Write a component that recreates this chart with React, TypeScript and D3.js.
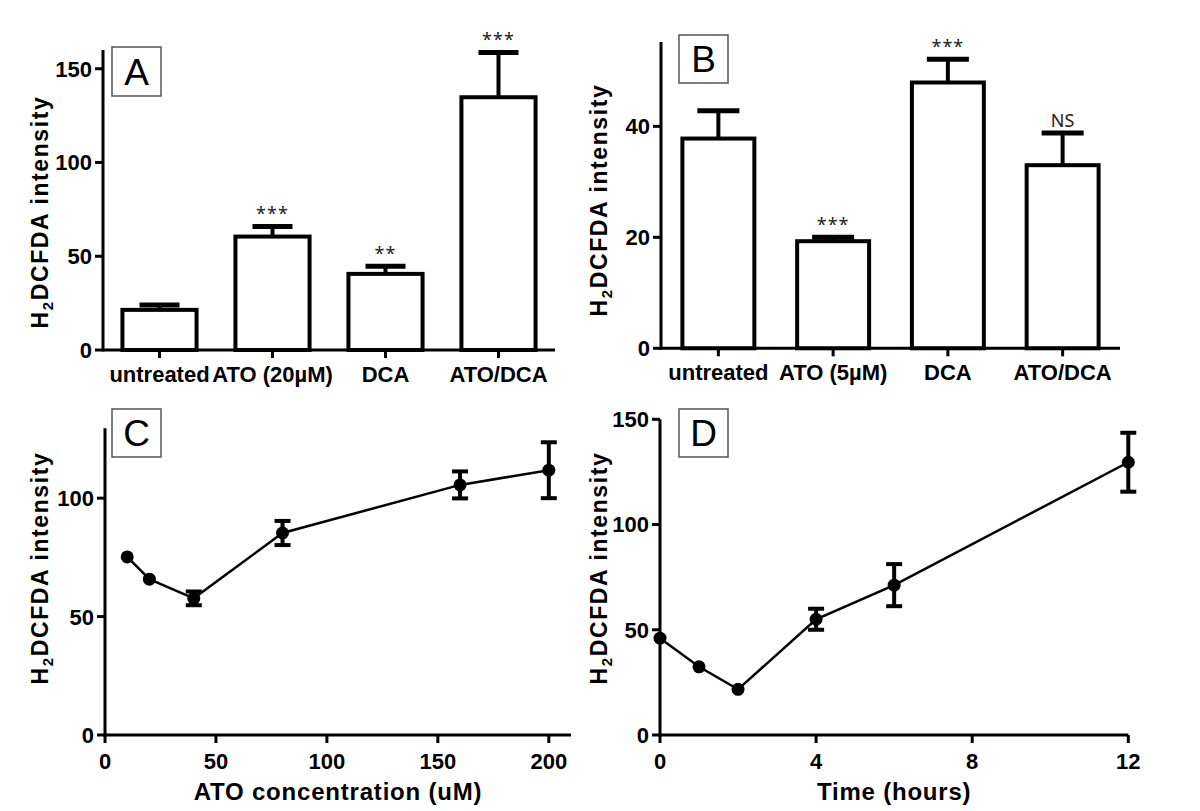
import React from "react";
import * as d3 from "d3";

// ---------- DATA ----------
const catsA = ["untreated", "ATO (20µM)", "DCA", "ATO/DCA"];
const meansA = [21.4, 60.5, 40.6, 134.8];
const errsA = [2.6, 5.4, 4.1, 23.9];
const sigA = ["", "***", "**", "***"];
const yTicksA = [0, 50, 100, 150];

const catsB = ["untreated", "ATO (5µM)", "DCA", "ATO/DCA"];
const meansB = [37.8, 19.3, 47.9, 33.0];
const errsB = [5.0, 0.7, 4.2, 5.8];
const sigB = ["", "***", "***", "NS"];
const yTicksB = [0, 20, 40];

const concC = [10, 20, 40, 80, 160, 200];
const meansC = [75.2, 65.8, 57.7, 85.3, 105.6, 111.8];
const errsC = [0, 0, 2.9, 5.1, 5.7, 11.8];
const xTicksC = [0, 50, 100, 150, 200];
const yTicksC = [0, 50, 100];

const timeD = [0, 1, 2, 4, 6, 12];
const meansD = [46.0, 32.4, 21.7, 55.0, 71.2, 129.6];
const errsD = [0, 0, 0, 5.0, 10.0, 14.0];
const xTicksD = [0, 4, 8, 12];
const yTicksD = [0, 50, 100, 150];

const yTitle = "intensity";
const xTitleC = "ATO concentration (uM)";
const xTitleD = "Time (hours)";

// ---------- STYLE ----------
const FONT = "'Liberation Sans', Arial, Helvetica, sans-serif";
const NOTE_FONT = "'Noto Sans', 'Open Sans', sans-serif";
const AXW = 3;
const TICK = 8;

function YAxis({ scale, x, ticks, top }: any) {
  const y0 = scale(0);
  return (
    <g>
      <line x1={x} x2={x} y1={top} y2={y0 + AXW / 2} stroke="#000" strokeWidth={AXW} />
      {ticks.map((t: number) => (
        <g key={t}>
          <line x1={x - TICK} x2={x} y1={scale(t)} y2={scale(t)} stroke="#000" strokeWidth={AXW} />
          <text x={x - 11} y={scale(t)} dy="0.36em" textAnchor="end" fontFamily={FONT}
            fontWeight="bold" fontSize={22}>{t}</text>
        </g>
      ))}
    </g>
  );
}

function YTitle({ x, cy }: any) {
  return (
    <text transform={`translate(${x},${cy}) rotate(-90)`} textAnchor="middle" fontFamily={FONT}
      fontWeight="bold" fontSize={23} letterSpacing={1.6}>
      H<tspan fontSize={15} dy={5}>2</tspan><tspan dy={-5}>DCFDA {yTitle}</tspan>
    </text>
  );
}

function PanelLetter({ x, y, w, h, letter }: any) {
  return (
    <g>
      <rect x={x} y={y} width={w} height={h} fill="#fff" stroke="#555" strokeWidth={1.5} />
      <text x={x + w / 2} y={y + h / 2 + 13} textAnchor="middle" fontFamily={FONT}
        fontSize={37}>{letter}</text>
    </g>
  );
}

function BarPanel({ cats, means, errs, sig, yTicks, xL, xR, yB, yT, yMax, pad, capW, label, box, titleX, titleY }: any) {
  const x = d3.scaleBand().domain(cats).range([xL, xR]).paddingInner(pad).paddingOuter(pad / 2);
  const y = d3.scaleLinear().domain([0, yMax]).range([yB, yT]);
  const bw = x.bandwidth();
  return (
    <g>
      {cats.map((c: string, i: number) => {
        const cx = (x(c) as number) + bw / 2;
        const top = y(means[i]);
        const capY = y(means[i] + errs[i]);
        return (
          <g key={c}>
            <line x1={cx} x2={cx} y1={top} y2={capY} stroke="#000" strokeWidth={4} />
            <line x1={cx - capW / 2} x2={cx + capW / 2} y1={capY} y2={capY} stroke="#000" strokeWidth={5} />
            <rect x={x(c)} y={top} width={bw} height={y(0) - top} fill="#fff" stroke="#000" strokeWidth={4} />
            {sig[i] && (
              <text x={cx} y={capY - 6} textAnchor="middle" fontFamily={NOTE_FONT} fontSize={18}
                fill="#222" letterSpacing={sig[i] === "NS" ? 0 : 1}>{sig[i]}</text>
            )}
          </g>
        );
      })}
      <line x1={xL} x2={xR} y1={yB} y2={yB} stroke="#000" strokeWidth={AXW} />
      {cats.map((c: string) => {
        const cx = (x(c) as number) + bw / 2;
        return (
          <g key={"t" + c}>
            <line x1={cx} x2={cx} y1={yB} y2={yB + TICK} stroke="#000" strokeWidth={AXW} />
            <text x={cx} y={yB + 32} textAnchor="middle" fontFamily={FONT} fontWeight="bold"
              fontSize={22}>{c}</text>
          </g>
        );
      })}
      <YAxis scale={y} x={xL} ticks={yTicks} top={yT} />
      <YTitle x={titleX} cy={titleY} />
      <PanelLetter {...box} letter={label} />
    </g>
  );
}

function LinePanel({ xs, means, errs, xTicks, yTicks, xL, xR, xMax, yB, yT, yMax, label, box, titleX, titleY, xTitle }: any) {
  const x = d3.scaleLinear().domain([0, xMax]).range([xL, xR]);
  const y = d3.scaleLinear().domain([0, yMax]).range([yB, yT]);
  const pts = xs.map((v: number, i: number) => [v, means[i]] as [number, number]);
  const path = d3.line<[number, number]>().x((d) => x(d[0])).y((d) => y(d[1]))(pts) as string;
  return (
    <g>
      <path d={path} fill="none" stroke="#000" strokeWidth={2.5} />
      {xs.map((v: number, i: number) => (
        <g key={v}>
          {errs[i] > 0 && (
            <g>
              <line x1={x(v)} x2={x(v)} y1={y(means[i] - errs[i])} y2={y(means[i] + errs[i])} stroke="#000" strokeWidth={4} />
              <line x1={x(v) - 8} x2={x(v) + 8} y1={y(means[i] - errs[i])} y2={y(means[i] - errs[i])} stroke="#000" strokeWidth={4} />
              <line x1={x(v) - 8} x2={x(v) + 8} y1={y(means[i] + errs[i])} y2={y(means[i] + errs[i])} stroke="#000" strokeWidth={4} />
            </g>
          )}
          <circle cx={x(v)} cy={y(means[i])} r={6.5} fill="#000" />
        </g>
      ))}
      <line x1={xL} x2={xR} y1={yB} y2={yB} stroke="#000" strokeWidth={AXW} />
      {xTicks.map((t: number) => (
        <g key={"x" + t}>
          <line x1={x(t)} x2={x(t)} y1={yB} y2={yB + TICK} stroke="#000" strokeWidth={AXW} />
          <text x={x(t)} y={yB + 34} textAnchor="middle" fontFamily={FONT} fontWeight="bold" fontSize={22}>{t}</text>
        </g>
      ))}
      <text x={(xL + xR) / 2} y={yB + 65} textAnchor="middle" fontFamily={FONT} fontWeight="bold"
        fontSize={24} letterSpacing={0.8}>{xTitle}</text>
      <YAxis scale={y} x={xL} ticks={yTicks} top={yT} />
      <YTitle x={titleX} cy={titleY} />
      <PanelLetter {...box} letter={label} />
    </g>
  );
}

export default function App() {
  return (
    <svg width={1200} height={811} style={{ position: "absolute", left: 0, top: 0, background: "#fff" }}>
      <rect width={1200} height={811} fill="#fff" />
      <BarPanel cats={catsA} means={meansA} errs={errsA} sig={sigA} yTicks={yTicksA}
        xL={103} xR={555} yB={350} yT={50} yMax={160} pad={0.344} capW={40} label="A"
        box={{ x: 112, y: 47, w: 49, h: 49 }} titleX={48} titleY={212} />
      <BarPanel cats={catsB} means={meansB} errs={errsB} sig={sigB} yTicks={yTicksB}
        xL={661} xR={1120} yB={348.3} yT={42} yMax={55.2} pad={0.373} capW={42} label="B"
        box={{ x: 679, y: 35, w: 49, h: 48 }} titleX={607} titleY={200} />
      <LinePanel xs={concC} means={meansC} errs={errsC} xTicks={xTicksC} yTicks={yTicksC}
        xL={105} xR={571} xMax={210} yB={735} yT={428.3} yMax={129.5} label="C"
        box={{ x: 112, y: 409, w: 49, h: 48 }} titleX={48} titleY={568} xTitle={xTitleC} />
      <LinePanel xs={timeD} means={meansD} errs={errsD} xTicks={xTicksD} yTicks={yTicksD}
        xL={660} xR={1128.3} xMax={12} yB={735} yT={419.3} yMax={150} label="D"
        box={{ x: 679, y: 409, w: 49, h: 48 }} titleX={607} titleY={568} xTitle={xTitleD} />
    </svg>
  );
}
